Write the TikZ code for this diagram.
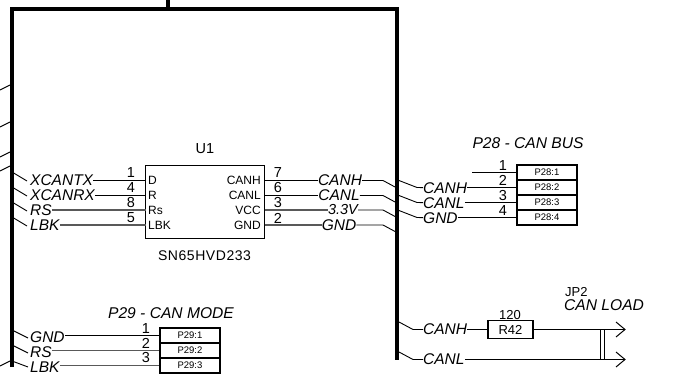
\documentclass[tikz,border=0pt]{standalone}
\usepackage{fontspec}
\setmainfont{Liberation Sans}
\newfontfamily\spaced[LetterSpace=4]{Liberation Sans}
\tikzset{
 net/.style={font=\itshape\fontsize{15.5}{15.5}\selectfont,inner sep=0pt,anchor=west},
 ttl/.style={font=\itshape\fontsize{15.6}{15.6}\selectfont,inner sep=0pt},
 pinnum/.style={font=\fontsize{14.5}{14.5}\selectfont,inner sep=0pt},
 chippin/.style={font=\fontsize{12}{12}\selectfont,inner sep=0pt},
 cell/.style={draw=black,line width=1.1pt,minimum width=60pt,minimum height=15pt,inner sep=0pt,font=\fontsize{9.5}{9.5}\selectfont},
 wire/.style={line width=1pt,black},
 gwire/.style={line width=1.5pt,black!65},
 thin wire/.style={line width=0.9pt,black},
 bus/.style={line width=4pt,black,line join=miter},
}
\begin{document}
\begin{tikzpicture}[x=1pt,y=-1pt]
\useasboundingbox (0,0) rectangle (674,382);
% bus
\coordinate (bTop) at (168,0);
\coordinate (bJoin) at (168,9);
\coordinate (bL) at (12,367);
\coordinate (bTL) at (12,9);
\coordinate (bTR) at (397,9);
\coordinate (bR) at (397,360);
\draw[bus] (bL) -- (bTL) -- (bTR) -- (bR);
\draw[bus] (bTop) -- (bJoin);
% left stubs
\foreach \i/\y in {a/85,b/122,c/152,d/166,e/361}{
 \coordinate (s\i) at (10,\y);
 \coordinate (t\i) at (0,\y+5);
 \draw[thin wire] (s\i) -- (t\i);
}
% chip
\node[draw=black,line width=1.1pt,minimum width=119pt,minimum height=73pt,inner sep=0pt] (U1) at (205,202) {};
\node[font=\fontsize{14.5}{14.5}\selectfont,inner sep=0pt] (U1ref) at (205,149) {U1};
\node[font=\spaced\fontsize{14}{14}\selectfont,inner sep=0pt] (U1val) at (204.5,256) {SN65HVD233};
% chip pins, left
\foreach \n/\t/\y in {D/D/180.5,R/R/195.5,Rs/Rs/210,LBK/LBK/225}{
 \coordinate (pl\n) at (145.5,\y);
 \node[chippin,anchor=west] at (148,\y) {\t};
}
\foreach \n/\t/\y in {H/CANH/180.5,L/CANL/195.5,V/VCC/210,G/GND/225}{
 \coordinate (pr\n) at (264.5,\y);
 \node[chippin,anchor=east] at (261,\y) {\t};
}
% left nets
\node[net] (nTX) at (30,180.5) {XCANTX};
\node[net] (nRX) at (30,195.5) {XCANRX};
\node[net] (nRS) at (30,210) {RS};
\node[net] (nLB) at (30,225) {LBK};
\draw[wire] (nTX) -- (plD);
\draw[wire] (nRX) -- (plR);
\draw[gwire] (nRS) -- (plRs);
\draw[gwire] (nLB) -- (plLBK);
\foreach \n/\y in {TX/172,RX/187,RS/202,LB/217}{
 \coordinate (e\n) at (12,\y);
 \coordinate (f\n) at (27,\y+9);
 \draw[thin wire] (e\n) -- (f\n);
}
\foreach \t/\y in {1/173,4/188,8/203,5/218}{
 \node[pinnum] at (131,\y) {\t};
}
% right of chip nets
\node[net,anchor=center] (nH) at (340,180.5) {CANH};
\node[net,anchor=center] (nL) at (339,195.5) {CANL};
\node[net,anchor=center,font=\itshape\fontsize{14.5}{14.5}\selectfont] (nV) at (343,210) {3.3V};
\node[net,anchor=center] (nG) at (339,225) {GND};
\draw[wire] (prH) -- (nH);
\draw[wire] (prL) -- (nL);
\draw[gwire] (prV) -- (nV);
\draw[gwire] (prG) -- (nG);
\foreach \t/\y in {7/173,6/188,3/203,2/218}{
 \node[pinnum] at (278,\y) {\t};
}
\foreach \n/\y in {H/180.5,L/195.5,V/210,G/225}{
 \coordinate (k\n) at (383,\y);
 \coordinate (m\n) at (396,\y+7);
 \draw[thin wire] (n\n) -- (k\n) -- (m\n);
}
% P28
\node[ttl] (P28t) at (528,143) {P28 - CAN BUS};
\foreach \i/\y in {1/172.5,2/187.5,3/202.5,4/217.5}{
 \node[cell] (c28\i) at (547,\y) {P28:\i};
}
\coordinate (p1free) at (472,172.5);
\draw[thin wire] (p1free) -- (c281.west);
\node[net] (qH) at (423,188) {CANH};
\node[net] (qL) at (423,203) {CANL};
\node[net] (qG) at (423,218) {GND};
\draw[wire] (qH.east |- c282.west) -- (c282.west);
\draw[wire] (qL.east |- c283.west) -- (c283.west);
\draw[wire] (qG.east |- c284.west) -- (c284.west);
\foreach \n/\y in {H/187.5,L/202.5,G/217.5}{
 \coordinate (r\n) at (399,\y-7);
 \coordinate (u\n) at (417,\y);
 \draw[thin wire] (r\n) -- (u\n) -- (q\n);
}
\foreach \t/\y in {1/166,2/180,3/196,4/211}{
 \node[pinnum] at (503,\y) {\t};
}
% P29
\node[ttl] (P29t) at (171,313) {P29 - CAN MODE};
\foreach \i/\y in {1/335.5,2/350.5,3/365.5}{
 \node[cell] (c29\i) at (190,\y) {P29:\i};
}
\node[net] (wG) at (30,337) {GND};
\node[net] (wR) at (30,352) {RS};
\node[net] (wL) at (30,367) {LBK};
\draw[wire] (wG.east |- c291.west) -- (c291.west);
\draw[gwire] (wR.east |- c292.west) -- (c292.west);
\draw[gwire] (wL.east |- c293.west) -- (c293.west);
\foreach \n/\y/\z in {G/330/338,R/345/353,L/361/367}{
 \coordinate (x\n) at (12,\y);
 \coordinate (z\n) at (28,\z);
 \draw[thin wire] (x\n) -- (z\n);
}
\foreach \t/\y in {1/329,2/343,3/358}{
 \node[pinnum] at (146,\y) {\t};
}
% load
\node[net] (lH) at (423,329.5) {CANH};
\node[net] (lL) at (423,359.5) {CANL};
\coordinate (gH) at (399,322);
\coordinate (hH) at (413,329.5);
\coordinate (gL) at (399,352);
\coordinate (hL) at (413,359.5);
\draw[thin wire] (gH) -- (hH) -- (lH);
\draw[thin wire] (gL) -- (hL) -- (lL);
\node[draw=black,line width=1.1pt,minimum width=45pt,minimum height=18pt,inner sep=0pt,font=\fontsize{13}{13}\selectfont] (R42) at (510.5,329.5) {R42};
\node[inner sep=0pt,font=\fontsize{13}{13}\selectfont] (Rv) at (510,315) {120};
\coordinate (aH) at (625,329.5);
\coordinate (aL) at (625,359.5);
\draw[wire] (lH) -- (R42);
\draw[wire] (R42) -- (aH);
\draw[wire] (lL) -- (aL);
\foreach \a in {aH,aL}{
 \draw[wire,miter limit=10] ([shift={(-9,-7.5)}]\a) -- (\a) -- ([shift={(-9,7.5)}]\a);
}
\coordinate (j1a) at (600.5,329.5);
\coordinate (j1b) at (600.5,359.5);
\coordinate (j2a) at (604.5,329.5);
\coordinate (j2b) at (604.5,359.5);
\draw[wire] (j1a) -- (j1b);
\draw[wire] (j2a) -- (j2b);
\node[inner sep=0pt,font=\fontsize{13}{13}\selectfont,anchor=west] (JP) at (565,292) {JP2};
\node[inner sep=0pt,font=\itshape\fontsize{15.6}{15.6}\selectfont,anchor=west] (CL) at (564,305) {CAN LOAD};
\end{tikzpicture}
\end{document}
